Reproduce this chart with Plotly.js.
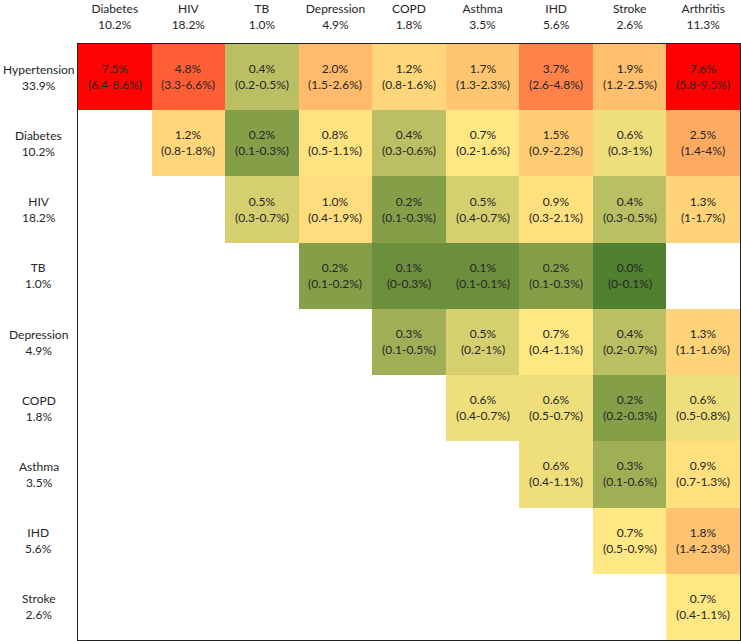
<!DOCTYPE html>
<html>
<head>
<meta charset="utf-8">
<script src="https://cdn.plot.ly/plotly-3.0.1.min.js"></script>
<style>html,body{margin:0;padding:0;background:#fff;}#chart{width:741px;height:641px;}</style>
</head>
<body>
<div id="chart"></div>
<script>
// Columns (conditions) and their prevalence
const colNames = ["Diabetes","HIV","TB","Depression","COPD","Asthma","IHD","Stroke","Arthritis"];
const colPrev  = ["10.2%","18.2%","1.0%","4.9%","1.8%","3.5%","5.6%","2.6%","11.3%"];
// Rows (conditions) and their prevalence
const rowNames = ["Hypertension","Diabetes","HIV","TB","Depression","COPD","Asthma","IHD","Stroke"];
const rowPrev  = ["33.9%","10.2%","18.2%","1.0%","4.9%","1.8%","3.5%","5.6%","2.6%"];

// Co-occurrence prevalence (%) — null where no cell
const vHypertension = [7.5, 4.8, 0.4, 2.0, 1.2, 1.7, 3.7, 1.9, 7.6];
const vDiabetes     = [null, 1.2, 0.2, 0.8, 0.4, 0.7, 1.5, 0.6, 2.5];
const vHIV          = [null, null, 0.5, 1.0, 0.2, 0.5, 0.9, 0.4, 1.3];
const vTB           = [null, null, null, 0.2, 0.1, 0.1, 0.2, 0.0, null];
const vDepression   = [null, null, null, null, 0.3, 0.5, 0.7, 0.4, 1.3];
const vCOPD         = [null, null, null, null, null, 0.6, 0.6, 0.2, 0.6];
const vAsthma       = [null, null, null, null, null, null, 0.6, 0.3, 0.9];
const vIHD          = [null, null, null, null, null, null, null, 0.7, 1.8];
const vStroke       = [null, null, null, null, null, null, null, null, 0.7];

// 95% confidence intervals
const ciHypertension = ["6.4-8.6","3.3-6.6","0.2-0.5","1.5-2.6","0.8-1.6","1.3-2.3","2.6-4.8","1.2-2.5","5.8-9.5"];
const ciDiabetes     = [null,"0.8-1.8","0.1-0.3","0.5-1.1","0.3-0.6","0.2-1.6","0.9-2.2","0.3-1","1.4-4"];
const ciHIV          = [null,null,"0.3-0.7","0.4-1.9","0.1-0.3","0.4-0.7","0.3-2.1","0.3-0.5","1-1.7"];
const ciTB           = [null,null,null,"0.1-0.2","0-0.3","0.1-0.1","0.1-0.3","0-0.1",null];
const ciDepression   = [null,null,null,null,"0.1-0.5","0.2-1","0.4-1.1","0.2-0.7","1.1-1.6"];
const ciCOPD         = [null,null,null,null,null,"0.4-0.7","0.5-0.7","0.2-0.3","0.5-0.8"];
const ciAsthma       = [null,null,null,null,null,null,"0.4-1.1","0.1-0.6","0.7-1.3"];
const ciIHD          = [null,null,null,null,null,null,null,"0.5-0.9","1.4-2.3"];
const ciStroke       = [null,null,null,null,null,null,null,null,"0.4-1.1"];

const zRows  = [vHypertension,vDiabetes,vHIV,vTB,vDepression,vCOPD,vAsthma,vIHD,vStroke];
const ciRows = [ciHypertension,ciDiabetes,ciHIV,ciTB,ciDepression,ciCOPD,ciAsthma,ciIHD,ciStroke];

const textRows = zRows.map((row, i) => row.map((v, j) =>
  v === null ? "" : v.toFixed(1) + "%<br>(" + ciRows[i][j] + "%)"));

const xIdx = colNames.map((_, i) => i);
const yIdx = rowNames.map((_, i) => i);

const zmax = 7.6, mid = 0.66;
const trace = {
  type: "heatmap",
  x: xIdx, y: yIdx, z: zRows,
  text: textRows,
  texttemplate: "%{text}",
  textfont: {family: "Lato, 'Open Sans', sans-serif", size: 12, color: "#262626"},
  zmin: 0, zmax: zmax,
  colorscale: [[0, "#507F30"], [mid / zmax, "#FFE884"], [1, "#FF0000"]],
  showscale: false,
  hoverinfo: "skip",
  xgap: 0, ygap: 0
};

const font = {family: "Lato, 'Open Sans', sans-serif", size: 12, color: "#262626"};

const annotations = rowNames.map((n, i) => ({
  xref: "paper", yref: "y", x: -0.059, y: i, xanchor: "center", yanchor: "middle",
  text: n + "<br>" + rowPrev[i], showarrow: false, align: "center", font: font
}));

const layout = {
  width: 741, height: 641,
  margin: {l: 78, r: 1, t: 44, b: 1},
  paper_bgcolor: "#ffffff", plot_bgcolor: "#ffffff",
  font: font,
  xaxis: {
    side: "top", tickvals: xIdx, ticktext: colNames.map((n, i) => n + "<br>" + colPrev[i]),
    range: [-0.5, 8.5], showgrid: false, zeroline: false, ticks: "",
    showline: true, mirror: true, linecolor: "#222", linewidth: 1.5,
    ticklabelstandoff: 9, tickfont: font, fixedrange: true
  },
  yaxis: {
    tickvals: yIdx, showticklabels: false, range: [8.5, -0.5],
    showgrid: false, zeroline: false, ticks: "",
    showline: true, mirror: true, linecolor: "#222", linewidth: 1.5, fixedrange: true
  },
  annotations: annotations
};

Plotly.newPlot("chart", [trace], layout, {displayModeBar: false, staticPlot: true});
</script>
</body>
</html>
